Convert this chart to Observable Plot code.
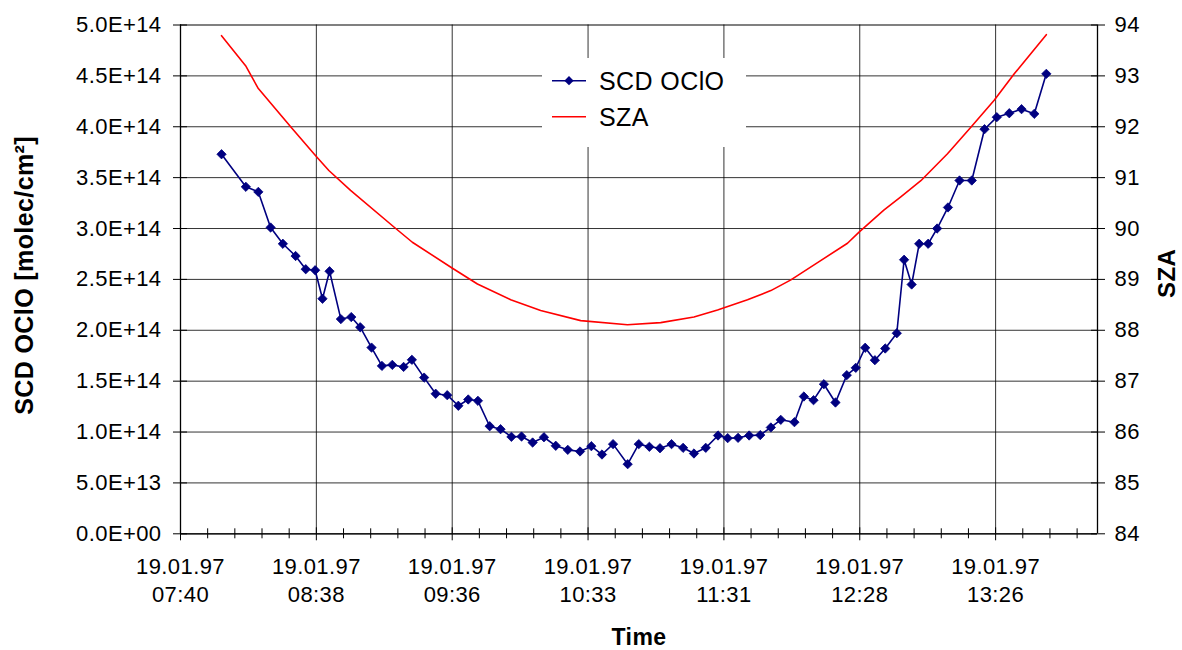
<!DOCTYPE html>
<html>
<head>
<meta charset="utf-8">
<script src="https://cdn.jsdelivr.net/npm/d3@7"></script>
<script src="https://cdn.jsdelivr.net/npm/@observablehq/plot@0.6"></script>
<style>
  html, body { margin: 0; padding: 0; background: #fff; }
  #wrap { position: relative; width: 1182px; height: 650px; }
  #legend { position: absolute; left: 542px; top: 58px; }
</style>
</head>
<body>
<div id="wrap"></div>
<script>
// ---- data (time in minutes after midnight, 19.01.97) ----
const scdTimeMin = [478.2, 488.5, 493.8, 499.0, 504.2, 509.6, 513.9, 517.9, 521.0, 524.0,
  528.8, 533.2, 537.0, 541.8, 546.2, 550.6, 555.4, 558.9, 564.1, 569.0,
  573.9, 578.6, 582.8, 586.9, 591.9, 596.5, 601.1, 605.4, 610.1, 614.9,
  619.9, 625.0, 630.2, 635.0, 639.5, 644.2, 650.4, 655.1, 659.6, 664.1,
  669.0, 673.9, 678.5, 683.5, 688.7, 692.8, 697.2, 701.9, 706.6, 711.1,
  715.3, 721.1, 725.1, 729.2, 733.6, 738.5, 743.3, 747.1, 751.1, 755.2,
  759.6, 764.5, 767.6, 770.8, 774.0, 777.8, 781.6, 786.2, 791.1, 796.3,
  801.7, 806.9, 812.2, 817.4, 822.8, 827.9];
const scdOClO = [3.73e14, 3.41e14, 3.36e14, 3.01e14, 2.85e14, 2.73e14, 2.60e14, 2.59e14, 2.31e14, 2.58e14,
  2.11e14, 2.13e14, 2.03e14, 1.83e14, 1.65e14, 1.66e14, 1.64e14, 1.71e14, 1.535e14, 1.376e14,
  1.362e14, 1.258e14, 1.32e14, 1.307e14, 1.057e14, 1.028e14, 0.953e14, 0.956e14, 0.897e14, 0.949e14,
  0.865e14, 0.825e14, 0.809e14, 0.861e14, 0.779e14, 0.881e14, 0.684e14, 0.881e14, 0.855e14, 0.841e14,
  0.881e14, 0.845e14, 0.789e14, 0.845e14, 0.966e14, 0.94e14, 0.943e14, 0.966e14, 0.97e14, 1.045e14,
  1.12e14, 1.097e14, 1.349e14, 1.313e14, 1.47e14, 1.29e14, 1.559e14, 1.631e14, 1.828e14, 1.706e14,
  1.821e14, 1.971e14, 2.693e14, 2.45e14, 2.85e14, 2.85e14, 3.0e14, 3.207e14, 3.472e14, 3.472e14,
  3.976e14, 4.094e14, 4.133e14, 4.173e14, 4.127e14, 4.52e14];

const szaTimeMin = [478.2, 488.4, 493.8, 507.5, 518.1, 523.7, 532.9, 551.3, 559.1, 576.1,
  586.7, 600.8, 613.5, 630.5, 650.3, 664.4, 678.5, 688.5, 701.2, 711.1,
  719.6, 730.9, 743.6, 748.5, 759.0, 766.2, 774.7, 786.0, 795.9, 805.8, 814.3, 827.9];
const szaDeg = [93.79, 93.20, 92.75, 92.00, 91.43, 91.14, 90.75, 90.03, 89.73, 89.22,
  88.91, 88.60, 88.39, 88.19, 88.11, 88.15, 88.26, 88.40, 88.60, 88.78,
  88.99, 89.33, 89.71, 89.93, 90.36, 90.62, 90.94, 91.47, 91.99, 92.52, 93.04, 93.81];

// axis ticks (x in fractions of a day, Excel style)
const xTickDays = [0.32, 0.36, 0.40, 0.44, 0.48, 0.52, 0.56];
const xTickDate = "19.01.97";
const xTickClock = ["07:40", "08:38", "09:36", "10:33", "11:31", "12:28", "13:26"];
const xDomainDays = [0.32, 0.59];
const xMinorStepDays = 0.008;
const yLeftTicks = [0, 0.5e14, 1.0e14, 1.5e14, 2.0e14, 2.5e14, 3.0e14, 3.5e14, 4.0e14, 4.5e14, 5.0e14];
const yRightTicks = [84, 85, 86, 87, 88, 89, 90, 91, 92, 93, 94];
const szaMin = 84, szaMax = 94, yMax = 5e14;

// ---- helpers ----
const MIN_PER_DAY = 1440;
const szaToY = s => (s - szaMin) / (szaMax - szaMin) * yMax;
const fmtE = v => {
  if (v === 0) return "0.0E+00";
  const e = Math.floor(Math.log10(v) + 1e-9);
  const m = v / Math.pow(10, e);
  return m.toFixed(1) + "E+" + String(e).padStart(2, "0");
};
const majorX = xTickDays.map(d => d * MIN_PER_DAY);
const nMinor = Math.round((xDomainDays[1] - xDomainDays[0]) / xMinorStepDays);
const minorX = d3.range(0, nMinor + 1)
  .map(i => (xDomainDays[0] + i * xMinorStepDays) * MIN_PER_DAY)
  .filter(m => m < xDomainDays[1] * MIN_PER_DAY - 1)
  .filter(m => !majorX.some(t => Math.abs(t - m) < 1e-6));
const xLabel = m => { const i = majorX.findIndex(t => Math.abs(t - m) < 1e-6); return i >= 0 ? xTickDate + "\n" + xTickClock[i] : ""; };

const scd = scdTimeMin.map((t, i) => ({t, v: scdOClO[i]}));
const sza = szaTimeMin.map((t, i) => ({t, v: szaToY(szaDeg[i])}));
const rightPos = yRightTicks.map(szaToY);

const NAVY = "#000080", RED = "#ff0000";
const blank = () => "";

const chart = Plot.plot({
  width: 1182,
  height: 650,
  marginLeft: 180,
  marginRight: 85,
  marginTop: 24.5,
  marginBottom: 116.7,
  style: {fontFamily: "'Liberation Sans', Arial, sans-serif", fontSize: "22px", color: "#000", background: "#fff", letterSpacing: "0.4px"},
  x: {domain: xDomainDays.map(d => d * MIN_PER_DAY)},
  y: {domain: [0, yMax]},
  marks: [
    Plot.gridY(yLeftTicks.slice(0, -1), {stroke: "#000", strokeOpacity: 0.8, strokeWidth: 1}),
    Plot.gridY(yLeftTicks.slice(-1), {stroke: "#808080", strokeOpacity: 1, strokeWidth: 2}),
    Plot.gridX(majorX, {stroke: "#000", strokeOpacity: 0.8, strokeWidth: 1}),
    Plot.ruleX([xDomainDays[0] * MIN_PER_DAY, xDomainDays[1] * MIN_PER_DAY], {stroke: "#000", strokeWidth: 1.3}),
    Plot.ruleY([0], {stroke: "#000", strokeWidth: 1.3}),
    // x axis ticks (crossing)
    Plot.axisX(majorX, {anchor: "bottom", tickSize: 7, tickPadding: 14, tickFormat: xLabel, lineHeight: 1.25, label: null, fontSize: 22}),
    Plot.axisX(majorX, {anchor: "bottom", tickSize: -6, tickFormat: blank, label: null}),
    Plot.axisX(minorX, {anchor: "bottom", tickSize: 5, tickFormat: blank, label: null}),
    Plot.axisX(minorX, {anchor: "bottom", tickSize: -5, tickFormat: blank, label: null}),
    // left axis
    Plot.axisY(yLeftTicks, {anchor: "left", tickSize: 7, tickPadding: 12, tickFormat: fmtE, label: null, fontSize: 22}),
    Plot.axisY(yLeftTicks, {anchor: "left", tickSize: -7, tickFormat: blank, label: null}),
    // right axis (SZA)
    Plot.axisY(rightPos, {anchor: "right", tickSize: 7, tickPadding: 10, tickFormat: (d, i) => String(yRightTicks[i]), label: null, fontSize: 22}),
    Plot.axisY(rightPos, {anchor: "right", tickSize: -7, tickFormat: blank, label: null}),
    // series
    Plot.line(sza, {x: "t", y: "v", stroke: RED, strokeWidth: 1.6}),
    Plot.line(scd, {x: "t", y: "v", stroke: NAVY, strokeWidth: 1.6}),
    Plot.dot(scd, {x: "t", y: "v", symbol: "diamond2", r: 4.2, fill: NAVY, stroke: NAVY, strokeWidth: 0.8}),
    // axis titles
    Plot.text(["SCD OClO [molec/cm²]"], {frameAnchor: "left", textAnchor: "middle", rotate: -90, dx: -156, dy: -4, fontWeight: "bold", fontSize: 25, letterSpacing: "0.6px"}),
    Plot.text(["SZA"], {frameAnchor: "right", textAnchor: "middle", rotate: -90, dx: 70, dy: -6, fontWeight: "bold", fontSize: 24}),
    Plot.text(["Time"], {frameAnchor: "bottom", dy: 111, fontWeight: "bold", fontSize: 23})
  ]
});

const wrap = document.getElementById("wrap");
wrap.appendChild(chart);

// legend (white box over the grid, as in the original)
const series = [
  {name: "SCD OClO", color: NAVY, marker: true},
  {name: "SZA", color: RED, marker: false}
];
const lg = d3.select(wrap).append("svg").attr("id", "legend")
  .attr("width", 204).attr("height", 89)
  .style("font-family", "'Liberation Sans', Arial, sans-serif");
lg.append("rect").attr("width", 204).attr("height", 89).attr("fill", "#fff");
series.forEach((s, i) => {
  const cy = 22.7 + i * 36;
  lg.append("line").attr("x1", 10).attr("x2", 44).attr("y1", cy).attr("y2", cy)
    .attr("stroke", s.color).attr("stroke-width", 1.6);
  if (s.marker) {
    lg.append("path").attr("d", d3.symbol(d3.symbolDiamond2, 55)())
      .attr("transform", `translate(27,${cy})`).attr("fill", s.color);
  }
  lg.append("text").attr("x", 57).attr("y", cy + 9.5).attr("font-size", 25)
    .attr("letter-spacing", "0.4px").attr("fill", "#000").text(s.name);
});
</script>
</body>
</html>
